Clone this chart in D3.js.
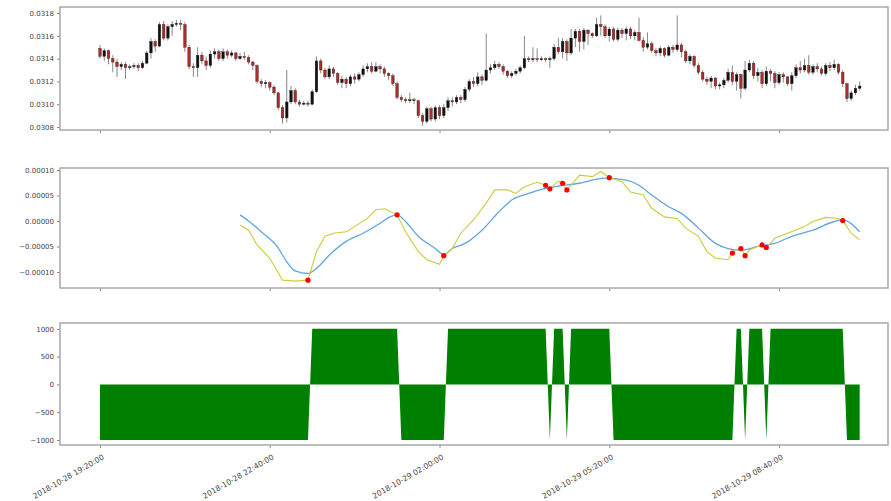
<!DOCTYPE html>
<html><head><meta charset="utf-8">
<script src="https://cdn.jsdelivr.net/npm/d3@7/dist/d3.min.js"></script>
<style>
html,body{margin:0;padding:0;background:#fff;}
svg text{font-family:"DejaVu Sans",sans-serif;}
</style></head>
<body><svg id="chart" width="891" height="501"></svg>
<script>
// ---------- data ----------
const candleOpen = [0.03149,0.03142,0.03147,0.03140,0.03137,0.03133,0.03135,0.03132,0.03133,0.03134,0.03132,0.03136,0.03145,0.03155,0.03151,0.03170,0.03158,0.03168,0.03170,0.03171,0.03170,0.03150,0.03133,0.03132,0.03143,0.03138,0.03134,0.03144,0.03146,0.03140,0.03146,0.03143,0.03145,0.03140,0.03142,0.03141,0.03137,0.03134,0.03120,0.03118,0.03119,0.03115,0.03110,0.03097,0.03088,0.03102,0.03112,0.03102,0.03100,0.03101,0.03100,0.03111,0.03138,0.03130,0.03124,0.03131,0.03127,0.03119,0.03122,0.03118,0.03124,0.03122,0.03126,0.03131,0.03133,0.03129,0.03133,0.03131,0.03127,0.03125,0.03118,0.03106,0.03104,0.03103,0.03104,0.03103,0.03090,0.03085,0.03096,0.03087,0.03097,0.03090,0.03097,0.03103,0.03102,0.03106,0.03104,0.03113,0.03120,0.03118,0.03124,0.03121,0.03130,0.03132,0.03135,0.03133,0.03129,0.03125,0.03127,0.03129,0.03132,0.03140,0.03139,0.03140,0.03139,0.03140,0.03139,0.03140,0.03150,0.03146,0.03155,0.03145,0.03158,0.03164,0.03155,0.03165,0.03162,0.03160,0.03170,0.03168,0.03160,0.03166,0.03157,0.03165,0.03162,0.03166,0.03160,0.03163,0.03156,0.03150,0.03153,0.03147,0.03145,0.03149,0.03143,0.03150,0.03148,0.03152,0.03146,0.03138,0.03142,0.03134,0.03128,0.03122,0.03120,0.03123,0.03116,0.03117,0.03121,0.03128,0.03120,0.03126,0.03114,0.03130,0.03136,0.03125,0.03128,0.03118,0.03129,0.03127,0.03119,0.03126,0.03124,0.03118,0.03125,0.03132,0.03130,0.03134,0.03128,0.03133,0.03131,0.03127,0.03134,0.03132,0.03135,0.03128,0.03118,0.03105,0.03110,0.03114];
const candleHigh = [0.03152,0.03149,0.03148,0.03143,0.03140,0.03137,0.03137,0.03135,0.03136,0.03136,0.03138,0.03147,0.03158,0.03157,0.03172,0.03173,0.03170,0.03173,0.03174,0.03174,0.03172,0.03152,0.03136,0.03150,0.03146,0.03142,0.03147,0.03149,0.03148,0.03149,0.03148,0.03147,0.03146,0.03145,0.03146,0.03143,0.03138,0.03135,0.03122,0.03121,0.03120,0.03117,0.03111,0.03099,0.03130,0.03116,0.03114,0.03104,0.03103,0.03103,0.03113,0.03142,0.03140,0.03132,0.03134,0.03133,0.03128,0.03125,0.03124,0.03126,0.03127,0.03128,0.03134,0.03136,0.03137,0.03137,0.03135,0.03133,0.03128,0.03127,0.03120,0.03108,0.03106,0.03110,0.03106,0.03104,0.03092,0.03098,0.03098,0.03099,0.03099,0.03100,0.03106,0.03106,0.03108,0.03108,0.03115,0.03122,0.03124,0.03128,0.03126,0.03162,0.03135,0.03138,0.03137,0.03135,0.03130,0.03129,0.03131,0.03134,0.03160,0.03142,0.03150,0.03149,0.03142,0.03141,0.03142,0.03153,0.03158,0.03158,0.03157,0.03166,0.03166,0.03166,0.03167,0.03166,0.03163,0.03176,0.03178,0.03170,0.03168,0.03168,0.03167,0.03167,0.03168,0.03168,0.03165,0.03176,0.03159,0.03163,0.03155,0.03149,0.03151,0.03150,0.03152,0.03152,0.03178,0.03154,0.03148,0.03144,0.03143,0.03136,0.03130,0.03124,0.03125,0.03124,0.03119,0.03123,0.03131,0.03134,0.03128,0.03127,0.03138,0.03139,0.03138,0.03132,0.03130,0.03133,0.03131,0.03129,0.03128,0.03128,0.03125,0.03128,0.03135,0.03138,0.03140,0.03143,0.03135,0.03136,0.03133,0.03136,0.03137,0.03139,0.03136,0.03130,0.03119,0.03112,0.03117,0.03120];
const candleLow = [0.03140,0.03138,0.03135,0.03128,0.03124,0.03130,0.03122,0.03130,0.03131,0.03129,0.03131,0.03135,0.03140,0.03146,0.03150,0.03156,0.03156,0.03160,0.03168,0.03165,0.03146,0.03131,0.03124,0.03124,0.03135,0.03130,0.03132,0.03140,0.03138,0.03138,0.03140,0.03141,0.03138,0.03139,0.03139,0.03135,0.03130,0.03118,0.03115,0.03114,0.03112,0.03108,0.03095,0.03083,0.03084,0.03100,0.03100,0.03098,0.03099,0.03098,0.03099,0.03110,0.03127,0.03122,0.03122,0.03124,0.03117,0.03114,0.03114,0.03116,0.03118,0.03120,0.03124,0.03128,0.03127,0.03128,0.03127,0.03124,0.03121,0.03116,0.03104,0.03102,0.03101,0.03101,0.03100,0.03088,0.03081,0.03083,0.03085,0.03085,0.03087,0.03088,0.03094,0.03098,0.03100,0.03101,0.03102,0.03111,0.03115,0.03116,0.03117,0.03120,0.03127,0.03130,0.03131,0.03126,0.03123,0.03123,0.03125,0.03127,0.03131,0.03137,0.03137,0.03137,0.03138,0.03137,0.03132,0.03138,0.03144,0.03140,0.03138,0.03143,0.03150,0.03146,0.03148,0.03152,0.03158,0.03159,0.03160,0.03158,0.03155,0.03155,0.03155,0.03158,0.03156,0.03157,0.03156,0.03155,0.03146,0.03148,0.03145,0.03142,0.03142,0.03141,0.03142,0.03145,0.03146,0.03141,0.03136,0.03135,0.03132,0.03126,0.03120,0.03117,0.03114,0.03113,0.03113,0.03114,0.03119,0.03117,0.03112,0.03105,0.03112,0.03128,0.03122,0.03120,0.03114,0.03116,0.03120,0.03114,0.03117,0.03119,0.03116,0.03112,0.03123,0.03127,0.03128,0.03126,0.03126,0.03128,0.03125,0.03125,0.03129,0.03130,0.03126,0.03115,0.03102,0.03103,0.03108,0.03112];
const candleClose = [0.03142,0.03147,0.03140,0.03137,0.03133,0.03135,0.03132,0.03133,0.03134,0.03132,0.03136,0.03145,0.03155,0.03151,0.03170,0.03158,0.03168,0.03170,0.03171,0.03170,0.03150,0.03133,0.03132,0.03143,0.03138,0.03134,0.03144,0.03146,0.03140,0.03146,0.03143,0.03145,0.03140,0.03142,0.03141,0.03137,0.03134,0.03120,0.03118,0.03119,0.03115,0.03110,0.03097,0.03088,0.03102,0.03112,0.03102,0.03100,0.03101,0.03100,0.03111,0.03138,0.03130,0.03124,0.03131,0.03127,0.03119,0.03122,0.03118,0.03124,0.03122,0.03126,0.03131,0.03133,0.03129,0.03133,0.03131,0.03127,0.03125,0.03118,0.03106,0.03104,0.03103,0.03104,0.03103,0.03090,0.03085,0.03096,0.03087,0.03097,0.03090,0.03097,0.03103,0.03102,0.03106,0.03104,0.03113,0.03120,0.03118,0.03124,0.03121,0.03130,0.03132,0.03135,0.03133,0.03129,0.03125,0.03127,0.03129,0.03132,0.03140,0.03139,0.03140,0.03139,0.03140,0.03139,0.03140,0.03150,0.03146,0.03155,0.03145,0.03158,0.03164,0.03155,0.03165,0.03162,0.03160,0.03170,0.03168,0.03160,0.03166,0.03157,0.03165,0.03162,0.03166,0.03160,0.03163,0.03156,0.03150,0.03153,0.03147,0.03145,0.03149,0.03143,0.03150,0.03148,0.03152,0.03146,0.03138,0.03142,0.03134,0.03128,0.03122,0.03120,0.03123,0.03116,0.03117,0.03121,0.03128,0.03120,0.03126,0.03114,0.03130,0.03136,0.03125,0.03128,0.03118,0.03129,0.03127,0.03119,0.03126,0.03124,0.03118,0.03125,0.03132,0.03130,0.03134,0.03128,0.03133,0.03131,0.03127,0.03134,0.03132,0.03135,0.03128,0.03118,0.03105,0.03110,0.03114,0.03116];

// signal line (blue) : candle index / value
const signalIdx = [33,35,38,42,44,46,49,51,54,58,62,66,68,70,72,75,79,81,83,86,90,94,97,101,104,107,113,119,124,127,130,134,137,141,145,148,151,155,159,163,168,173,175,179];
const signalVal = [0.000012,0.000000,-0.000021,-0.000053,-0.000080,-0.000098,-0.000103,-0.000093,-0.000067,-0.000040,-0.000024,-0.0000045,0.0000065,0.000012,-0.000001,-0.000030,-0.000054,-0.000066,-0.000054,-0.000044,-0.000018,0.000018,0.000041,0.000054,0.000062,0.000067,0.000074,0.000084,0.000080,0.000070,0.000051,0.000028,0.000015,-0.000014,-0.000044,-0.000054,-0.000057,-0.000050,-0.000044,-0.000030,-0.000018,-0.000001,0.000002,-0.000021];
// macd line (yellow)
const macdIdx = [33,35,37,40,43,46,49,51,53,55,58,60,63,65,67,70,72,75,77,80,81,83,85,88,91,93,96,98,100,103,105,106,108,109,110,113,116,118,120,123,125,128,130,133,136,138,141,143,145,148,149,150,151,152,153,155,156,157,159,162,166,168,171,174,175,177,179];
const macdVal = [-0.000008,-0.000018,-0.000047,-0.000073,-0.000116,-0.000118,-0.000116,-0.000060,-0.000030,-0.000024,-0.000021,-0.000011,0.000005,0.000022,0.000024,0.000012,-0.000021,-0.000060,-0.000076,-0.000085,-0.000068,-0.000054,-0.000024,0.000002,0.000035,0.000061,0.000061,0.000054,0.000067,0.000076,0.000070,0.000063,0.000078,0.000074,0.000061,0.000090,0.000087,0.000097,0.000085,0.000077,0.000057,0.000051,0.000025,0.000008,0.000005,-0.000014,-0.000030,-0.000060,-0.000073,-0.000076,-0.000063,-0.000056,-0.000054,-0.000068,-0.000057,-0.000050,-0.000047,-0.000052,-0.000034,-0.000024,-0.000011,-0.000001,0.000007,0.000005,0.000001,-0.000024,-0.000037];
// crossover markers
const crossIdx = [49,70,81,105,106,109,110,120,149,151,152,156,157,175];
const crossVal = [-0.000116,0.000012,-0.000068,0.000070,0.000063,0.000074,0.000061,0.000085,-0.000063,-0.000054,-0.000068,-0.000047,-0.000052,0.000001];
// position (breakpoints of the held position)
const posIdx = [0,49,50,70,71,81,82,105,106,107,109,110,111,120,121,149,150,151,152,153,156,157,158,175,176,179];
const posVal = [-1000,-1000,1000,1000,-1000,-1000,1000,1000,-1000,1000,1000,-1000,1000,1000,-1000,-1000,1000,1000,-1000,1000,1000,-1000,1000,1000,-1000,-1000];

const priceTicks = [0.0308,0.0310,0.0312,0.0314,0.0316,0.0318];
const macdTicks = [-0.0001,-0.00005,0,0.00005,0.0001];
const posTicks = [-1000,-500,0,500,1000];
const xTickIdx = [0,40,80,120,160];
const xTickLabels = ["2018-10-28 19:20:00","2018-10-28 22:40:00","2018-10-29 02:00:00","2018-10-29 05:20:00","2018-10-29 08:40:00"];

// ---------- drawing ----------
const svg = d3.select("#chart");
svg.append("rect").attr("width",891).attr("height",501).attr("fill","#fff");

const L = 60, R = 888;
const panels = {
  top: {y0:7, y1:130},
  mid: {y0:168, y1:288},
  bot: {y0:323, y1:445}
};
const x = d3.scaleLinear().domain([-9.43, 185.67]).range([L, R]);
const yP = d3.scaleLinear().domain([0.030774, 0.031853]).range([panels.top.y1, panels.top.y0]);
const yM = d3.scaleLinear().domain([-0.0001314, 0.0001039]).range([panels.mid.y1, panels.mid.y0]);
const yS = d3.scaleLinear().domain([-1090, 1105]).range([panels.bot.y1, panels.bot.y0]);

const tickColor = "#444", frameColor = "#a8a8a8";

function frame(p, yScale, ticks, fmt, showXLabels) {
  const g = svg.append("g");
  const ax = g.append("g").attr("transform", `translate(${L},0)`)
    .call(d3.axisLeft(yScale).tickValues(ticks).tickFormat(fmt).tickSize(3).tickPadding(3));
  ax.select(".domain").remove();
  ax.selectAll("line").attr("stroke", "#888");
  ax.selectAll("text").attr("font-size", "7px").attr("fill", tickColor);
  const bx = g.append("g").attr("transform", `translate(0,${p.y1})`)
    .call(d3.axisBottom(x).tickValues(xTickIdx).tickFormat("").tickSize(3));
  bx.select(".domain").remove();
  bx.selectAll("line").attr("stroke", "#888");
  if (showXLabels) {
    xTickIdx.forEach((t, k) => {
      g.append("text")
        .attr("transform", `translate(${x(t)+2},${p.y1+9}) rotate(-30)`)
        .attr("text-anchor", "end").attr("dy", "0.7em")
        .attr("font-size", "7.6px").attr("fill", tickColor)
        .text(xTickLabels[k]);
    });
  }
  return g;
}
function border(p) {
  svg.append("rect").attr("x", L).attr("y", p.y0).attr("width", R - L).attr("height", p.y1 - p.y0)
    .attr("fill", "none").attr("stroke", frameColor).attr("stroke-width", 1.5);
}

["top","mid","bot"].forEach(k => {
  svg.append("clipPath").attr("id", "clip-" + k).append("rect")
    .attr("x", L).attr("y", panels[k].y0).attr("width", R - L).attr("height", panels[k].y1 - panels[k].y0);
});

// ---- top: candlesticks ----
frame(panels.top, yP, priceTicks, d3.format(".4f"), false);
const gC = svg.append("g").attr("clip-path", "url(#clip-top)");
const bw = (x(1) - x(0)) * 0.62;
candleClose.forEach((c, i) => {
  const o = candleOpen[i], up = c >= o;
  const col = up ? "#111" : "#b02a28";
  gC.append("line").attr("x1", x(i)).attr("x2", x(i))
    .attr("y1", yP(candleHigh[i])).attr("y2", yP(candleLow[i]))
    .attr("stroke", "#555").attr("stroke-width", 0.7);
  const yt = yP(Math.max(o, c)), yb = yP(Math.min(o, c));
  gC.append("rect").attr("x", x(i) - bw / 2).attr("y", yt)
    .attr("width", bw).attr("height", Math.max(0.8, yb - yt))
    .attr("fill", col).attr("stroke", "#222").attr("stroke-width", 0.35);
});
border(panels.top);

// ---- middle: macd & signal ----
frame(panels.mid, yM, macdTicks, d3.format(".5f"), false);
const gM = svg.append("g").attr("clip-path", "url(#clip-mid)");
const line = d3.line().x(d => x(d[0])).y(d => yM(d[1])).curve(d3.curveMonotoneX);
gM.append("path").datum(signalIdx.map((t, k) => [t, signalVal[k]]))
  .attr("d", line).attr("fill", "none").attr("stroke", "#5fa6dc").attr("stroke-width", 1.3);
gM.append("path").datum(macdIdx.map((t, k) => [t, macdVal[k]]))
  .attr("d", d3.line().x(d => x(d[0])).y(d => yM(d[1])))
  .attr("fill", "none").attr("stroke", "#cccc3a").attr("stroke-width", 1.1);
gM.selectAll("circle").data(crossIdx).join("circle")
  .attr("cx", d => x(d)).attr("cy", (d, k) => yM(crossVal[k])).attr("r", 2.6).attr("fill", "#ff0000");
border(panels.mid);

// ---- bottom: position ----
frame(panels.bot, yS, posTicks, d3.format("d"), true);
const gS = svg.append("g").attr("clip-path", "url(#clip-bot)");
gS.append("path").datum(posIdx.map((t, k) => [t, posVal[k]]))
  .attr("d", d3.area().x(d => x(d[0])).y0(yS(0)).y1(d => yS(d[1])))
  .attr("fill", "#008000");
border(panels.bot);
</script></body></html>
